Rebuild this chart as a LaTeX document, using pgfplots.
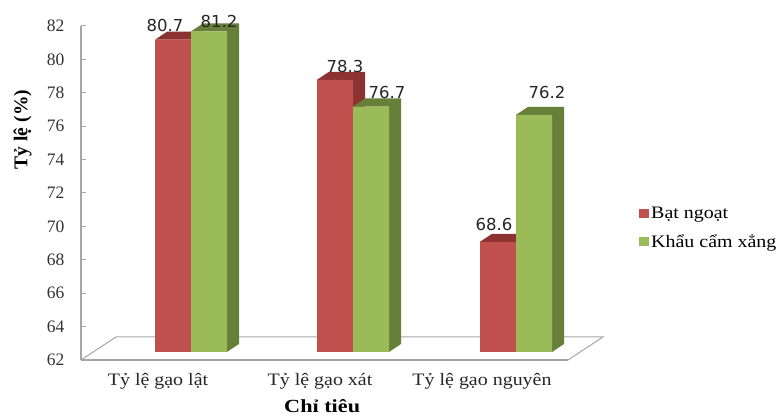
\documentclass[border=0pt]{standalone}
\usepackage{pgfplots}
\pgfplotsset{compat=1.18}
\usepackage{fontspec}
\setmainfont{Liberation Serif}
\newfontfamily\lab{DejaVu Sans}
\newfontfamily\wide[FakeStretch=1.14]{Liberation Serif}
\newfontfamily\wideb[FakeStretch=1.2]{Liberation Serif}
\definecolor{bred}{HTML}{C0504D}
\definecolor{dred}{HTML}{8C3331}
\definecolor{bgreen}{HTML}{9BBB59}
\definecolor{dgreen}{HTML}{66803A}
\definecolor{axgray}{HTML}{A6A6A6}
\pgfplotstableread{
x y dx dy
191 80.7 -26 14
353 78.3 -8 13
516 68.6 -22 17
}\redt
\pgfplotstableread{
x y dx dy
191 81.2 28 10
353 76.7 34 14
516 76.2 31 22
}\greent
\begin{document}
\begin{tikzpicture}[x=1pt,y=1pt]
\useasboundingbox (-81pt,-57pt) rectangle (695pt,360pt);
% back axis: ticks, labels, floor
\begin{axis}[
  scale only axis, width=522pt, height=334pt,
  xmin=81, xmax=603, ymin=62, ymax=82,
  axis y line*=left, axis x line*=bottom,
  axis line style={-, draw=axgray, line width=1.4pt},
  x axis line style={draw=none},
  xtick={158,320,482},
  xticklabels={Tỷ lệ gạo lật, Tỷ lệ gạo xát, Tỷ lệ gạo nguyên},
  x tick label style={font=\wide\fontsize{17.5}{20}\selectfont, text=black!85, yshift=-10pt},
  ytick={62,64,...,82},
  major x tick style={draw=none},
  major y tick style={draw=axgray, line width=1pt},
  major tick length=5pt,
  tick pos=left,
  /pgf/number format/assume math mode=true,
  y tick label style={font=\fontsize{17.5}{20}\selectfont, text=black!80, xshift=-13pt},
  xlabel={Chỉ tiêu},
  xlabel style={font=\wideb\bfseries\fontsize{18.5}{22}\selectfont, at={(axis description cs:0.462,-0.139)}, anchor=center},
  ylabel={Tỷ lệ (\%)},
  ylabel style={font=\bfseries\fontsize{19.5}{22}\selectfont, at={(axis description cs:-0.112,0.69)}, anchor=center},
  clip=false,
]
\addplot[draw=axgray, line width=1pt] coordinates {(81,62) (116,63.38) (603,63.38) (568,62)};
\addplot[draw=axgray, line width=1.6pt] coordinates {(81,62) (568,62)};
\end{axis}
% bars, raised 8 px on the floor
\begin{axis}[
  at={(0pt,8pt)}, anchor=south west,
  scale only axis, width=522pt, height=334pt,
  xmin=81, xmax=603, ymin=62, ymax=82,
  hide axis,
  legend style={at={(1.069,0.371)}, anchor=west, draw=none, fill=none,
    font=\wide\fontsize{17.5}{20}\selectfont, row sep=10pt, inner sep=0pt},
  legend cell align=left,
  legend image code/.code={\fill[#1] (0pt,-4.5pt) rectangle (10pt,4.5pt);},
]
% depth faces (red)
\addplot[fill=dred, draw=none, forget plot] coordinates {(155,80.7) (167,81.18) (203,81.18) (203,62.48) (191,62) (191,80.7)} --cycle;
\addplot[fill=dred, draw=none, forget plot] coordinates {(317,78.3) (329,78.78) (365,78.78) (365,62.48) (353,62) (353,78.3)} --cycle;
\addplot[fill=dred, draw=none, forget plot] coordinates {(480,68.6) (492,69.08) (528,69.08) (528,62.48) (516,62) (516,68.6)} --cycle;
% depth faces (green)
\addplot[fill=dgreen, draw=none, forget plot] coordinates {(191,81.2) (203,81.68) (239,81.68) (239,62.48) (227,62) (227,81.2)} --cycle;
\addplot[fill=dgreen, draw=none, forget plot] coordinates {(353,76.7) (365,77.18) (401,77.18) (401,62.48) (389,62) (389,76.7)} --cycle;
\addplot[fill=dgreen, draw=none, forget plot] coordinates {(516,76.2) (528,76.68) (564,76.68) (564,62.48) (552,62) (552,76.2)} --cycle;
% front faces
\addplot[ybar, bar width=36pt, bar shift=-18pt, fill=bred, draw=none,
  visualization depends on={\thisrow{dx} \as \dxv},
  visualization depends on={\thisrow{dy} \as \dyv},
  nodes near coords, point meta=y,
  nodes near coords style={anchor=center, xshift=\dxv, yshift=\dyv, text=black!85,
    font=\lab\fontsize{16.5}{18}\selectfont, /pgf/number format/fixed, /pgf/number format/fixed zerofill, /pgf/number format/precision=1, /pgf/number format/assume math mode=true},
] table[x=x,y=y] {\redt};
\addlegendentry{Bạt ngoạt}
\addplot[ybar, bar width=36pt, bar shift=18pt, fill=bgreen, draw=none,
  visualization depends on={\thisrow{dx} \as \dxv},
  visualization depends on={\thisrow{dy} \as \dyv},
  nodes near coords, point meta=y,
  nodes near coords style={anchor=center, xshift=\dxv, yshift=\dyv, text=black!85,
    font=\lab\fontsize{16.5}{18}\selectfont, /pgf/number format/fixed, /pgf/number format/fixed zerofill, /pgf/number format/precision=1, /pgf/number format/assume math mode=true},
] table[x=x,y=y] {\greent};
\addlegendentry{Khẩu cẩm xẳng}
\end{axis}
\end{tikzpicture}
\end{document}
